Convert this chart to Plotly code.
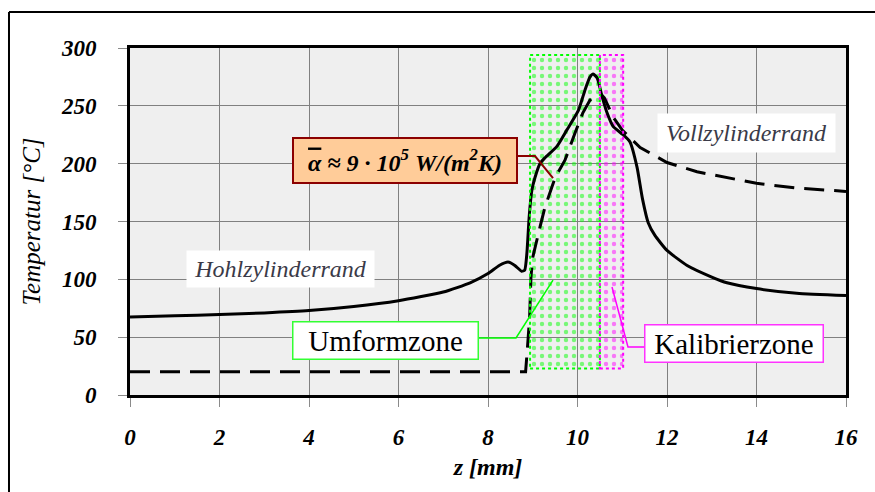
import plotly.graph_objects as go

# Temperature profiles along z
z_solid = [0, 1, 2, 3, 4, 5, 6, 7, 7.6, 8.0, 8.25, 8.45, 8.6, 8.75, 8.82, 8.87, 8.92, 8.98,
           9.05, 9.16, 9.27, 9.54, 9.76, 10.02, 10.17, 10.28, 10.35, 10.44, 10.55, 10.66,
           10.8, 11.02, 11.17, 11.33, 11.45, 11.58, 11.73, 12.0, 12.45, 13.0, 13.34, 14.0,
           14.9, 16.0]
t_solid = [67.5, 68.5, 69.5, 71, 73, 76.5, 81.5, 89, 97, 105, 112, 115, 112, 107, 108,
           123, 154, 177, 188, 200, 205, 215, 229, 246, 264, 275, 277.5, 274, 258, 244,
           232, 225, 219, 197, 170, 149, 138, 125, 112, 102, 97, 92, 88, 86]

z_dash = [0, 8.84, 8.88, 8.93, 8.96, 9.0, 9.16, 9.27, 9.5, 9.72, 9.94, 10.12, 10.28, 10.4,
          10.5, 10.6, 10.8, 11.0, 11.4, 12.0, 12.67, 13.34, 14.0, 14.9, 16.0]
t_dash = [20, 20, 40, 67, 102, 119, 145, 162, 188, 203, 226, 244, 255, 259, 261, 257, 240,
          229, 214, 201, 193, 188, 183, 179, 176]

x_ticks = [0, 2, 4, 6, 8, 10, 12, 14, 16]
y_ticks = [0, 50, 100, 150, 200, 250, 300]

# Process zones (z range and temperature band of the hatched areas)
zone_names = ["Umformzone", "Kalibrierzone"]
zone_start = [8.94, 10.5]
zone_end = [10.5, 11.02]
zone_low = [23, 23]
zone_high = [294, 294]
zone_colors = ["#00ff00", "#ff00ff"]

SERIF = "Liberation Serif"

fig = go.Figure()

for name, a, b, lo, hi, col in zip(zone_names, zone_start, zone_end, zone_low, zone_high, zone_colors):
    fig.add_trace(go.Bar(
        x=[(a + b) / 2], y=[hi - lo], base=[lo], width=[b - a], name=name,
        marker=dict(color="rgba(0,0,0,0)", line=dict(width=0),
                    pattern=dict(shape=".", fgcolor=col, bgcolor="rgba(0,0,0,0)",
                                 size=8, solidity=0.24)),
        hoverinfo="skip", showlegend=False))
    fig.add_shape(type="rect", xref="x", yref="y", x0=a, x1=b, y0=lo, y1=hi,
                  line=dict(color=col, width=2, dash="dot"), layer="above")

fig.add_trace(go.Scatter(x=z_dash, y=t_dash, mode="lines", name="Vollzylinderrand",
                         line=dict(color="black", width=3, dash="20px,10px"),
                         showlegend=False))
fig.add_trace(go.Scatter(x=z_solid, y=t_solid, mode="lines", name="Hohlzylinderrand",
                         line=dict(color="black", width=3, shape="spline", smoothing=0.5),
                         showlegend=False))

# Leader lines from the labels
leaders = [
    ([8.648, 9.05, 9.453], [206.6, 206.6, 187.6], "#8b0000", 2),
    ([7.777, 8.626, 9.453], [49.3, 49.3, 99.4], "#00ff00", 1.5),
    ([11.486, 11.128, 10.771], [41.5, 41.5, 93.4], "#ff00ff", 1.5),
]
for xs, ys, col, w in leaders:
    path = "M {} {} L {} {} L {} {}".format(xs[0], ys[0], xs[1], ys[1], xs[2], ys[2])
    fig.add_shape(type="path", xref="x", yref="y", path=path, line=dict(color=col, width=w))

# Labels
fig.add_annotation(x=6.15, y=202.7, xref="x", yref="y", showarrow=False,
                   text="<span style='text-decoration:overline'>α</span> ≈ 9 · 10<sup>5</sup> W/(m<sup>2</sup>K)",
                   font=dict(family=SERIF, size=24, color="black", style="italic", weight="bold"),
                   bgcolor="#ffcc99", bordercolor="#8b0000", borderwidth=2, borderpad=1,
                   width=220, height=41)
fig.add_annotation(x=13.78, y=226.5, xref="x", yref="y", showarrow=False,
                   text="Vollzylinderrand",
                   font=dict(family=SERIF, size=24, color="#3a3a48", style="italic"),
                   bgcolor="white", borderpad=0, width=177, height=38)
fig.add_annotation(x=3.36, y=108.9, xref="x", yref="y", showarrow=False,
                   text="Hohlzylinderrand",
                   font=dict(family=SERIF, size=24, color="#3a3a48", style="italic"),
                   bgcolor="white", borderpad=0, width=187, height=36)
fig.add_annotation(x=5.70, y=47.5, xref="x", yref="y", showarrow=False,
                   text="Umformzone",
                   font=dict(family=SERIF, size=29, color="black"),
                   bgcolor="white", bordercolor="#33ff33", borderwidth=1.5, borderpad=0,
                   width=184, height=36)
fig.add_annotation(x=13.49, y=44.1, xref="x", yref="y", showarrow=False,
                   text="Kalibrierzone",
                   font=dict(family=SERIF, size=29, color="black"),
                   bgcolor="white", bordercolor="#ff33ff", borderwidth=1.5, borderpad=0,
                   width=177, height=36)

# Outer frame (top and left edges)
fig.add_shape(type="line", xref="paper", yref="paper", x0=-0.169, x1=1.1, y0=1.1037, y1=1.1037,
              line=dict(color="black", width=2))
fig.add_shape(type="line", xref="paper", yref="paper", x0=-0.169, x1=-0.169, y0=1.1037, y1=-0.35,
              line=dict(color="black", width=2))

axis_common = dict(showgrid=True, gridcolor="#808080", gridwidth=1, showline=True,
                   linecolor="black", linewidth=3, mirror=True, ticks="outside",
                   ticklen=9, tickcolor="#8a8a8a", tickwidth=1, zeroline=False,
                   tickfont=dict(family=SERIF, size=23, color="black", style="italic",
                                 weight="bold"))

fig.update_xaxes(range=[0, 16], tickvals=x_ticks, ticklabelstandoff=10,
                 title=dict(text="z [mm]", standoff=10,
                            font=dict(family=SERIF, size=24, color="black", style="italic",
                                      weight="bold")),
                 **axis_common)
fig.update_yaxes(range=[0, 300], tickvals=y_ticks, ticklabelstandoff=17,
                 title=dict(text="Temperatur [°C]", standoff=14,
                            font=dict(family=SERIF, size=25, color="black", style="italic")),
                 **axis_common)

fig.update_layout(width=875, height=492, margin=dict(l=130, r=29, t=48, b=97),
                  paper_bgcolor="white", plot_bgcolor="#efefef", barmode="overlay",
                  showlegend=False)

fig.write_html("out.html")
